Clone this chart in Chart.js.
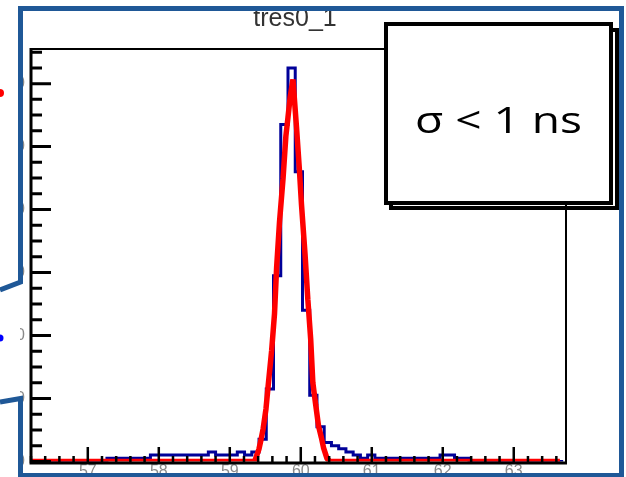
<!DOCTYPE html>
<html>
<head>
<meta charset="utf-8">
<title>tres0_1</title>
<script src="https://cdn.jsdelivr.net/npm/chart.js"></script>
<style>
  html, body { margin: 0; padding: 0; background: #fff; }
  canvas { display: block; }
</style>
</head>
<body>
<canvas id="tresChart" width="626" height="477"></canvas>
<script>
// Ejes
const xTicks = [57, 58, 59, 60, 61, 62, 63];
const yTicks = [0, 20, 40, 60, 80, 100, 120];
const xRange = [56.2, 63.75];
const yRange = [0, 131];

// Histograma tres0_1 (azul), 73 bins
const binStart = 56.25;
const binWidth = 0.102;
const counts = [
    0, 0, 0, 0, 0, 0, 0, 0, 0, 0,
    1, 1, 1, 1, 1, 1, 2, 2, 2, 2,
    2, 2, 2, 2, 3, 2, 2, 2, 3, 2,
    3, 7, 23, 59, 107, 125, 92, 48, 21, 11,
    6, 5, 4, 3, 2, 1, 2, 1, 1, 1,
    1, 1, 1, 1, 1, 1, 2, 2, 1, 1,
    0, 0, 0, 0, 0, 0, 0, 0, 0, 0,
    0, 0, 0
];

// Ajuste gaussiano (rojo)
const fitX = [56.2, 59.35, 59.41, 59.44, 59.47, 59.51, 59.54, 59.59, 59.63, 59.66,
              59.70, 59.75, 59.79, 59.82, 59.85, 59.89, 59.94, 59.98, 60.01, 60.06,
              60.10, 60.14, 60.17, 60.21, 60.25, 60.29, 60.32, 60.37, 60.41, 63.65];
const fitY = [0, 0, 3.8, 6.9, 10.4, 16.7, 23.9, 35.3, 46.9, 61.7,
              75.9, 89.8, 103.3, 109.3, 115.6, 121.3, 106.1, 92.9, 81.6, 65.8,
              51.3, 38.7, 25, 18, 11.3, 7.6, 4.4, 0.9, 0, 0];

// cada punto en el borde izquierdo de su bin, mas el borde derecho final
const histPoints = counts.map((c, i) => ({ x: binStart + i * binWidth, y: c }));
histPoints.push({ x: binStart + counts.length * binWidth, y: counts[counts.length - 1] });
const fitPoints = fitX.map((v, i) => ({ x: v, y: fitY[i] }));

// Marco estilo ROOT, caja de texto y restos de la diapositiva
const rootFrame = {
    id: 'rootFrame',
    afterDraw(chart) {
        const ctx = chart.ctx;
        const area = chart.chartArea;
        const sx = chart.scales.x;
        const sy = chart.scales.y;
        const axisY = area.bottom + 1.5;
        ctx.save();

        // marcas del eje x (hacia dentro)
        ctx.strokeStyle = '#000';
        ctx.lineWidth = 2.5;
        ctx.beginPath();
        for (let i = Math.ceil(xRange[0] * 5); i <= xRange[1] * 5; i++) {
            const px = sx.getPixelForValue(i / 5);
            ctx.moveTo(px, axisY);
            ctx.lineTo(px, axisY - (i % 5 === 0 ? 16 : 7));
        }
        ctx.stroke();

        // marcas del eje y
        ctx.lineWidth = 3;
        ctx.beginPath();
        for (let i = 0; i * 5 <= yRange[1]; i++) {
            const py = sy.getPixelForValue(i * 5);
            ctx.moveTo(area.left, py);
            ctx.lineTo(area.left + (i % 4 === 0 ? 20 : 11), py);
        }
        ctx.stroke();

        // marco
        ctx.lineWidth = 2;
        ctx.beginPath();
        ctx.moveTo(area.left, area.top);
        ctx.lineTo(area.right - 1, area.top);
        ctx.lineTo(area.right - 1, axisY);
        ctx.stroke();
        ctx.lineWidth = 3;
        ctx.beginPath();
        ctx.moveTo(area.left, area.top - 1);
        ctx.lineTo(area.left, axisY);
        ctx.lineTo(area.right, axisY);
        ctx.stroke();

        // titulo
        ctx.font = '25px "Liberation Sans"';
        ctx.fillStyle = '#333';
        ctx.textAlign = 'center';
        ctx.textBaseline = 'alphabetic';
        ctx.fillText('tres0_1', 295, 26);

        // caja con sombra
        ctx.strokeStyle = '#000';
        ctx.lineWidth = 4;
        ctx.strokeRect(391, 30, 226, 178);
        ctx.fillStyle = '#fff';
        ctx.fillRect(384, 22, 229, 183);
        ctx.strokeRect(386, 24, 225, 179);

        const label = '\u03C3 < 1 ns';
        ctx.font = '36px "Open Sans", "DejaVu Sans", sans-serif';
        ctx.textAlign = 'left';
        const w = ctx.measureText(label).width;
        ctx.save();
        ctx.translate(415, 133);
        ctx.scale(167 / w, 1);
        ctx.fillStyle = '#000';
        ctx.fillText(label, 0, 0);
        ctx.restore();

        // borde de la imagen en la diapositiva
        ctx.fillStyle = '#fff';
        ctx.fillRect(0, 0, 20, 477);
        ctx.strokeStyle = '#1f5897';
        ctx.lineWidth = 5;
        ctx.lineJoin = 'miter';
        ctx.beginPath();
        ctx.moveTo(0, 290);
        ctx.lineTo(20.5, 282);
        ctx.lineTo(20.5, 8.5);
        ctx.lineTo(621.5, 8.5);
        ctx.lineTo(621.5, 475.5);
        ctx.lineTo(20.5, 475.5);
        ctx.lineTo(20.5, 398.5);
        ctx.lineTo(0, 402);
        ctx.stroke();

        // puntos cortados en el margen
        ctx.fillStyle = '#ff0000';
        ctx.beginPath();
        ctx.arc(0, 93, 4, 0, Math.PI * 2);
        ctx.fill();
        ctx.fillStyle = '#0000ff';
        ctx.beginPath();
        ctx.arc(0, 338, 3.5, 0, Math.PI * 2);
        ctx.fill();

        ctx.restore();
    }
};

const tickFont = { family: 'Liberation Sans', size: 16 };

new Chart(document.getElementById('tresChart'), {
    type: 'line',
    data: {
        datasets: [{
            label: 'fit',
            data: fitPoints,
            borderColor: '#ff0000',
            borderWidth: 5.5,
            borderJoinStyle: 'bevel',
            pointRadius: 0,
            fill: false,
            tension: 0,
            order: 0
        }, {
            label: 'tres0_1',
            data: histPoints,
            borderColor: '#000099',
            borderWidth: 3,
            stepped: 'before',
            pointRadius: 0,
            fill: false,
            order: 1
        }]
    },
    options: {
        responsive: false,
        animation: false,
        layout: {
            padding: { left: 0, top: 49, right: 59, bottom: 0 }
        },
        plugins: {
            legend: { display: false },
            tooltip: { enabled: false }
        },
        scales: {
            x: {
                type: 'linear',
                min: xRange[0],
                max: xRange[1],
                afterBuildTicks: s => { s.ticks = xTicks.map(v => ({ value: v })); },
                afterFit: s => { s.height = 12; },
                grid: { display: false, drawTicks: false },
                border: { display: false },
                ticks: { color: '#8a8a8a', font: tickFont, padding: 1, maxRotation: 0, autoSkip: false }
            },
            y: {
                min: yRange[0],
                max: yRange[1],
                afterBuildTicks: s => { s.ticks = yTicks.map(v => ({ value: v })); },
                afterFit: s => { s.width = 31; },
                grid: { display: false, drawTicks: false },
                border: { display: false },
                ticks: { color: '#8a8a8a', font: tickFont, padding: 6, autoSkip: false }
            }
        }
    },
    plugins: [rootFrame]
});
</script>
</body>
</html>
